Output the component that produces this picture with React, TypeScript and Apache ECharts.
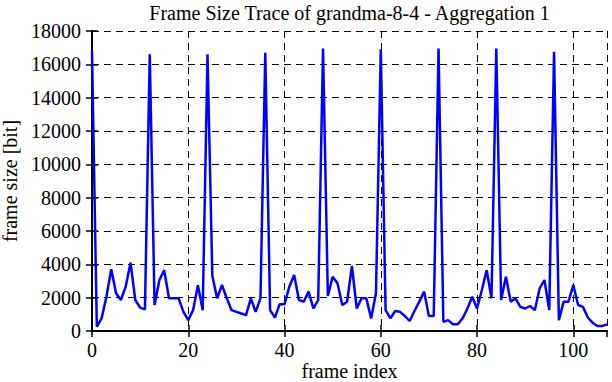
import React, { useEffect, useRef } from "react";
import * as echarts from "echarts";

const titleText = "Frame Size Trace of grandma-8-4 - Aggregation 1";
const xName = "frame index";
const yName = "frame size [bit]";

const frameIndex: number[] = Array.from({ length: 108 }, (_, i) => i);
const frameSize: number[] = [
  16800, 260, 760, 2060, 3700, 2260, 1860, 2660, 4100, 1860,
  1400, 1300, 16600, 1560, 3060, 3650, 1960, 1960, 1960, 1150,
  650, 1250, 2750, 1250, 16600, 3300, 1960, 2760, 1960, 1250,
  1150, 1050, 950, 1960, 1150, 1960, 16700, 1250, 810, 1610,
  1610, 2660, 3360, 1860, 1760, 2360, 1350, 1860, 16950, 2100,
  3250, 2860, 1560, 1760, 3900, 1350, 1960, 1960, 760, 2260,
  16900, 1250, 760, 1200, 1150, 900, 600, 1200, 1760, 2360,
  900, 900, 16950, 550, 650, 400, 400, 760, 1350, 2060,
  1350, 2460, 3650, 1960, 16950, 1860, 3250, 1760, 1960, 1450,
  1350, 1500, 1250, 2550, 3060, 1250, 16750, 650, 1760, 1760,
  2760, 1560, 1450, 810, 500, 300, 300, 400,
];

const xMin = 0;
const xMax = 107;
const xInterval = 20;
const yMin = 0;
const yMax = 18000;
const yInterval = 2000;

const FONT = "Liberation Serif";
const FS = 20;

export default function App() {
  const ref = useRef<HTMLDivElement>(null);
  useEffect(() => {
    if (!ref.current) return;
    const chart = echarts.init(ref.current, undefined, { renderer: "svg" });
    const axisLine = { show: true, lineStyle: { color: "#000", width: 2 } };
    const tick = { show: true, inside: true, length: 6, lineStyle: { color: "#000", width: 1.5 } };
    const dashed = { show: true, lineStyle: { color: "#000", width: 1, type: [7, 5] as any } };
    const plain = (v: number) => String(v);
    chart.setOption({
      animation: false,
      backgroundColor: "#fff",
      textStyle: { fontFamily: FONT },
      graphic: [
        {
          type: "text",
          x: 349.5,
          y: 13,
          style: {
            text: titleText,
            font: `${FS}px ${FONT}`,
            fill: "#000",
            textAlign: "center",
            textVerticalAlign: "middle",
          },
        },
        {
          type: "text",
          x: 349.5,
          y: 381,
          style: {
            text: xName,
            font: `${FS}px ${FONT}`,
            fill: "#000",
            textAlign: "center",
            textVerticalAlign: "bottom",
          },
        },
      ],
      grid: { left: 92, right: 5, top: 31, bottom: 51, containLabel: false, outerBoundsMode: "none" },
      xAxis: [
        {
          type: "value",
          min: xMin,
          max: xMax,
          interval: xInterval,
          axisLine,
          axisTick: tick,
          axisLabel: { show: true, showMaxLabel: false, margin: 9, fontFamily: FONT, fontSize: FS, color: "#000", formatter: plain },
          splitLine: dashed,
        },
        {
          type: "value",
          position: "top",
          min: xMin,
          max: xMax,
          interval: xInterval,
          axisLine,
          axisTick: tick,
          axisLabel: { show: false },
          splitLine: { show: false },
        },
      ],
      yAxis: [
        {
          type: "value",
          min: yMin,
          max: yMax,
          interval: yInterval,
          name: yName,
          nameLocation: "middle",
          nameGap: 71,
          nameTextStyle: { fontFamily: FONT, fontSize: FS, color: "#000" },
          axisLine,
          axisTick: tick,
          axisLabel: { show: true, margin: 11, fontFamily: FONT, fontSize: FS, color: "#000", formatter: plain },
          splitLine: dashed,
        },
        {
          type: "value",
          position: "right",
          min: yMin,
          max: yMax,
          interval: yInterval,
          axisLine,
          axisTick: tick,
          axisLabel: { show: false },
          splitLine: { show: false },
        },
      ],
      series: [
        {
          type: "line",
          xAxisIndex: 0,
          yAxisIndex: 0,
          data: frameIndex.map((x, i) => [x, frameSize[i]]),
          showSymbol: false,
          symbol: "none",
          lineStyle: { color: "#0000ff", width: 2.5 },
          itemStyle: { color: "#0000ff" },
        },
      ],
    });
    return () => chart.dispose();
  }, []);
  return (
    <div
      ref={ref}
      style={{ position: "fixed", left: 0, top: 0, width: 612, height: 382 }}
    />
  );
}
